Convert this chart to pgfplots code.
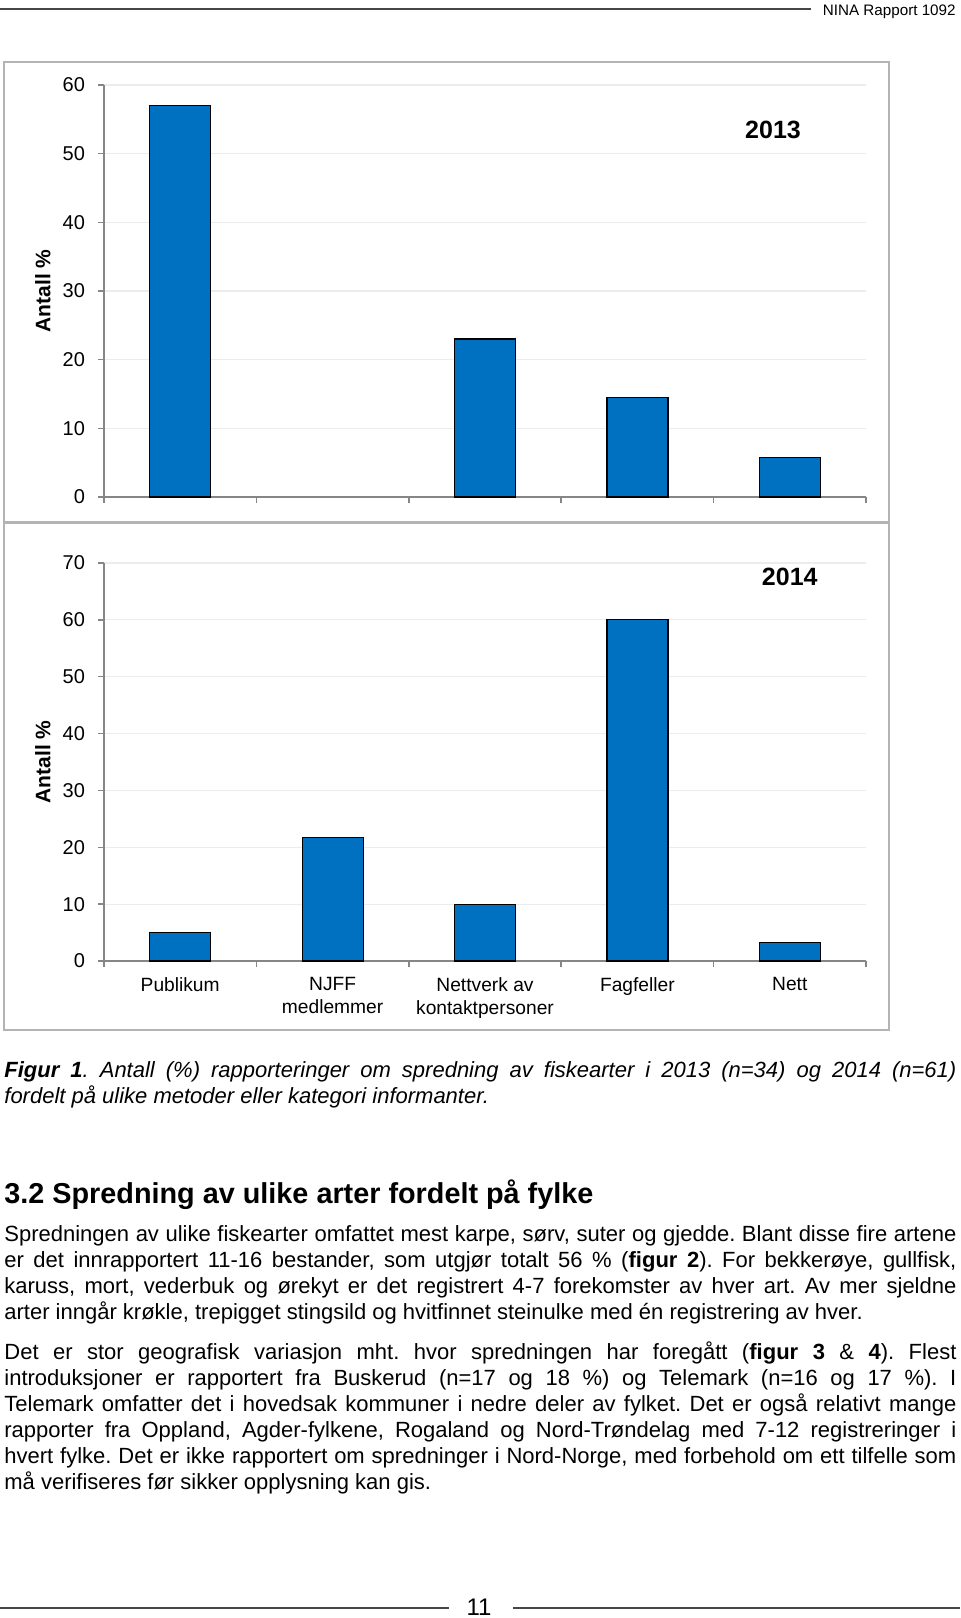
\documentclass[border=0pt]{standalone}
\usepackage{pgfplots}
\pgfplotsset{compat=1.18}
\usepackage{fontspec}
\setmainfont{Liberation Sans}
\definecolor{barblue}{RGB}{0,112,192}
\definecolor{axisgray}{RGB}{134,134,134}
\definecolor{gridgray}{RGB}{236,236,236}
\definecolor{framegray}{RGB}{180,180,180}
\definecolor{rulegray}{RGB}{70,70,70}
\pgfplotsset{
  myaxis/.style={
    scale only axis, width=381pt,
    xmin=-0.5, xmax=4.5, ymin=0,
    axis lines=left, axis line style={-, draw=axisgray, line width=0.75pt},
    tick align=outside, major tick length=3pt, minor tick length=3pt,
    tick style={draw=axisgray, line width=0.75pt},
    xtick={0,1,2,3,4}, minor xtick={-0.5,0.5,1.5,2.5,3.5,4.5},
    major x tick style={draw=none},
    ymajorgrids, grid style={draw=gridgray, line width=0.6pt},
    ybar, bar width=30.5pt,
    xticklabel style={font=\fontsize{9.6}{11.5}\selectfont, yshift=-1.75pt},
    yticklabel style={font=\fontsize{10}{12}\selectfont, xshift=-3pt},
    /pgf/number format/assume math mode=true,
    ylabel={Antall \%},
    ylabel style={at={(axis description cs:-0.0801,0.5)}, anchor=center, font=\bfseries\fontsize{10.5}{12}\selectfont},
    clip=false,
  },
  mybar/.style={fill=barblue, draw=black, line width=0.6pt},
}
\begin{document}
\frenchspacing
\begin{tikzpicture}
\useasboundingbox (0,0) rectangle (480pt,-809pt);
% header
\draw[rulegray, line width=1pt] (0,-4.25pt) -- (405.5pt,-4.25pt);
\node[anchor=base east, inner sep=0, font=\fontsize{7.6}{9}\selectfont] at (478pt,-7.5pt) {NINA Rapport 1092};
% chart frames
\draw[framegray, line width=0.75pt] (2pt,-31pt) rectangle (444.5pt,-261pt);
\draw[framegray, line width=0.75pt] (2pt,-261.8pt) rectangle (444.5pt,-515pt);
% 2013
\begin{axis}[myaxis, height=206pt, at={(52pt,-248.5pt)}, anchor=south west,
  ymax=60, ytick={0,10,20,30,40,50,60}, xticklabels={,,,,}]
\addplot[mybar] coordinates {(0,57) (2,23) (3,14.5) (4,5.8)};
\node[font=\bfseries\fontsize{12.5}{14}\selectfont] at (axis cs:3.89,53.5) {2013};
\end{axis}
% 2014
\begin{axis}[myaxis, height=199pt, at={(52pt,-480.5pt)}, anchor=south west,
  ymax=70, ytick={0,10,20,30,40,50,60,70},
  xticklabels={Publikum, NJFF\\medlemmer, Nettverk av\\kontaktpersoner, Fagfeller, Nett},
  xticklabel style={align=center}]
\addplot[mybar] coordinates {(0,5) (1,21.7) (2,10) (3,60) (4,3.3)};
\node[font=\bfseries\fontsize{12.5}{14}\selectfont] at (axis cs:4.0,67.6) {2014};
\end{axis}
% caption
\node[anchor=base west, inner sep=0, text width=476pt, align=justify, font=\fontsize{11}{13}\selectfont\itshape] at (2pt,-538.5pt)
{\exhyphenpenalty=10000\hyphenpenalty=10000 \textbf{Figur 1}. Antall (\%) rapporteringer om spredning av fiskearter i 2013 (n=34) og 2014 (n=61)\linebreak fordelt på ulike metoder eller kategori informanter.};
% heading
\node[anchor=base west, inner sep=0, font=\bfseries\fontsize{14.4}{17}\selectfont] at (2pt,-601.5pt) {3.2 Spredning av ulike arter fordelt på fylke};
% paragraph 1
\node[anchor=base west, inner sep=0, text width=476pt, align=justify, font=\fontsize{11}{13}\selectfont] at (2pt,-620.5pt)
{\exhyphenpenalty=10000\hyphenpenalty=10000 Spredningen av ulike fiskearter omfattet mest karpe, sørv, suter og gjedde. Blant disse fire artene\linebreak er det innrapportert 11-16 bestander, som utgjør totalt 56~\% (\textbf{figur 2}). For bekkerøye, gullfisk,\linebreak karuss, mort, vederbuk og ørekyt er det registrert 4-7 forekomster av hver art. Av mer sjeldne\linebreak arter inngår krøkle, trepigget stingsild og hvitfinnet steinulke med én registrering av hver.};
% paragraph 2
\node[anchor=base west, inner sep=0, text width=476pt, align=justify, font=\fontsize{11}{13}\selectfont] at (2pt,-679.5pt)
{\exhyphenpenalty=10000\hyphenpenalty=10000 Det er stor geografisk variasjon mht. hvor spredningen har foregått (\textbf{figur 3} \& \textbf{4}). Flest\linebreak introduksjoner er rapportert fra Buskerud (n=17 og 18~\%) og Telemark (n=16 og 17~\%). I\linebreak Telemark omfatter det i hovedsak kommuner i nedre deler av fylket. Det er også relativt mange\linebreak rapporter fra Oppland, Agder-fylkene, Rogaland og Nord-Trøndelag med 7-12 registreringer i\linebreak hvert fylke. Det er ikke rapportert om spredninger i Nord-Norge, med forbehold om ett tilfelle som\linebreak må verifiseres før sikker opplysning kan gis.};
% footer
\draw[rulegray, line width=0.7pt] (0,-804pt) -- (224.5pt,-804pt);
\draw[rulegray, line width=0.7pt] (256.5pt,-804pt) -- (480pt,-804pt);
\node[anchor=base, inner sep=0, font=\fontsize{12}{14}\selectfont] at (239.5pt,-807.5pt) {11};
\end{tikzpicture}
\end{document}
